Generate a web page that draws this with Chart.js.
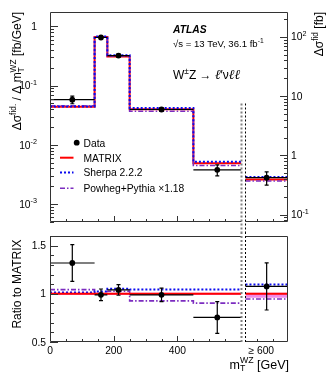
<!DOCTYPE html>
<html>
<head>
<meta charset="utf-8">
<script src="https://cdn.jsdelivr.net/npm/chart.js@4.4.1/dist/chart.umd.min.js"></script>
<style>
  body { margin: 0; background: #fff; }
  #wrap { position: relative; width: 332px; height: 375px; }
  canvas { position: absolute; left: 0; }
  #top { top: 0; }
  #bot { top: 232px; }
</style>
</head>
<body>
<div id="wrap">
  <canvas id="top" width="332" height="232"></canvas>
  <canvas id="bot" width="332" height="143"></canvas>
</div>
<script>
// m_T^WZ bins [GeV]; the >=600 bin gets its own slot right of the break
const binEdges   = [0, 140, 180, 250, 450, 600];
const binCenters = [70, 160, 215, 350, 525];
const overEdges  = [613.5, 747];
const overCenter = [680];

// upper panel: dsigma/dmT [fb/GeV] (left axis)
const dataXsec    = [0.058, 0.65, 0.322, 0.0396, 0.0038];
const dataXsecErr = [0.0085, 0.045, 0.018, 0.003, 0.0008];
const matrixXsec  = [0.044, 0.66, 0.31, 0.040, 0.0049];
const sherpaXsec  = [0.0447, 0.675, 0.326, 0.042, 0.0052];
const powhegXsec  = [0.0458, 0.66, 0.316, 0.037, 0.0045];

// upper panel: >=600 bin, dsigma [fb] (right axis)
const overData    = [0.42];
const overDataErr = [0.105];
const overMatrix  = [0.39];
const overSherpa  = [0.43];
const overPowheg  = [0.37];

// lower panel: ratio to MATRIX (last entry = >=600 bin)
const ratioData   = [1.32, 0.99, 1.04, 0.99, 0.755, 1.077];
const ratioErr    = [0.19, 0.06, 0.055, 0.07, 0.165, 0.245];
const ratioMatrix = [1, 1, 1, 1, 1, 1];
const ratioSherpa = [1.013, 1.025, 1.053, 1.045, 1.045, 1.097];
const ratioPowheg = [1.043, 1.0, 1.027, 0.927, 0.903, 0.947];
const ratioBandLo = [0.988, 0.988, 0.988, 0.988, 0.988, 0.96];
const ratioBandHi = [1.012, 1.012, 1.012, 1.012, 1.012, 1.01];

// tick labels
const leftTickVals  = [1, 0.1, 0.01, 0.001];
const leftTickText  = ['1', '10^{-1}', '10^{-2}', '10^{-3}'];
const rightTickVals = [100, 10, 1, 0.1];
const rightTickText = ['10^{2}', '10', '1', '10^{-1}'];
const ratioTickVals = [0.5, 1, 1.5];
const ratioTickText = ['0.5', '1', '1.5'];
const xTickVals = [0, 200, 400, 663];
const xTickText = ['0', '200', '400', '\u2265 600'];

const FONT = '"Liberation Sans", Arial, Helvetica, sans-serif';
const RED = '#ff0000', BLUE = '#0a0aee', PURPLE = '#7c2cc0', BAND = 'rgba(235,90,225,0.7)';

const stepPts = (edges, vals) => edges.map((e, i) => ({ x: e, y: vals[Math.min(i, vals.length - 1)] }));
const pts = (xs, ys) => xs.map((x, i) => ({ x: x, y: ys[i] }));

// text with ^{sup} and _{sub} pieces
function parseTex(s) {
  const parts = [];
  const re = /([\^_])\{([^}]*)\}/g;
  let last = 0, m;
  while ((m = re.exec(s))) {
    if (m.index > last) parts.push({ t: s.slice(last, m.index) });
    parts.push({ t: m[2], k: m[1] === '^' ? 'sup' : 'sub' });
    last = re.lastIndex;
  }
  if (last < s.length) parts.push({ t: s.slice(last) });
  return parts;
}

function drawRich(ctx, parts, size, x, y, align) {
  const small = size * 0.7;
  const fontOf = (p, sz) => (p.i ? 'italic ' : '') + (p.b ? 'bold ' : '') + (p.sz || sz) + 'px ' + (p.f || FONT);
  const widthOf = p => {
    if (p.k === 'ss') {
      ctx.font = fontOf(p, small);
      return Math.max(ctx.measureText(p.t[0]).width, ctx.measureText(p.t[1]).width);
    }
    ctx.font = fontOf(p, p.k ? small : size);
    return ctx.measureText(p.t).width;
  };
  const total = parts.reduce((a, p) => a + widthOf(p), 0);
  let cx = align === 'right' ? x - total : align === 'center' ? x - total / 2 : x;
  ctx.textAlign = 'left';
  ctx.textBaseline = 'alphabetic';
  for (const p of parts) {
    const w = widthOf(p);
    if (p.k === 'ss') {
      ctx.font = fontOf(p, small);
      ctx.fillText(p.t[0], cx, y + size * 0.22);
      ctx.fillText(p.t[1], cx, y - size * 0.45);
    } else {
      ctx.font = fontOf(p, p.k ? small : size);
      const dy = p.k === 'sup' ? -size * 0.42 : p.k === 'sub' ? size * 0.22 : 0;
      ctx.fillText(p.t, cx, y + dy);
    }
    cx += w;
  }
}

function logTicks(scale) {
  const out = [];
  for (let e = Math.floor(Math.log10(scale.min)); e <= Math.ceil(Math.log10(scale.max)); e++)
    for (let m = 1; m <= 9; m++) {
      const v = m * Math.pow(10, e);
      if (v >= scale.min * 0.999 && v <= scale.max) out.push({ v: v, major: m === 1 });
    }
  return out;
}

// black data points with bin-wide horizontal bars and capped vertical bars
const errorBars = {
  id: 'errorBars',
  afterDatasetsDraw(chart) {
    const ctx = chart.ctx;
    chart.data.datasets.forEach(ds => {
      if (!ds.errY) return;
      const xs = chart.scales.x, ys = chart.scales[ds.yAxisID || 'y'];
      ctx.save();
      ctx.strokeStyle = '#000';
      ctx.lineWidth = 1.2;
      ds.data.forEach((p, i) => {
        const px = xs.getPixelForValue(p.x), py = ys.getPixelForValue(p.y);
        const t = ys.getPixelForValue(p.y + ds.errY[i]), b = ys.getPixelForValue(p.y - ds.errY[i]);
        const l = xs.getPixelForValue(ds.xLo[i]), r = xs.getPixelForValue(ds.xHi[i]);
        ctx.beginPath();
        ctx.moveTo(l, py); ctx.lineTo(r, py);
        ctx.moveTo(px, t); ctx.lineTo(px, b);
        ctx.moveTo(px - 2, t); ctx.lineTo(px + 2, t);
        ctx.moveTo(px - 2, b); ctx.lineTo(px + 2, b);
        ctx.stroke();
      });
      ctx.restore();
    });
  }
};

function frameAndBreak(chart, breakFromY, toY, openTop, openBottom) {
  const { ctx, chartArea: a, scales: { x } } = chart;
  const b0 = Math.round(x.getPixelForValue(600)) + 0.5;
  const b1 = Math.round(x.getPixelForValue(overEdges[0])) + 0.5;
  const L = Math.round(a.left) + 0.5, R = Math.round(a.right) - 0.5;
  const T = Math.round(a.top) + 0.5, B = Math.round(a.bottom) - 0.5;
  ctx.save();
  ctx.strokeStyle = '#333';
  ctx.lineWidth = 1;
  ctx.beginPath();
  ctx.moveTo(L, T); ctx.lineTo(L, B);
  ctx.moveTo(R, T); ctx.lineTo(R, B);
  if (openTop) { ctx.moveTo(L, T); ctx.lineTo(b0, T); ctx.moveTo(b1, T); ctx.lineTo(R, T); }
  else { ctx.moveTo(L, T); ctx.lineTo(R, T); }
  if (openBottom) { ctx.moveTo(L, B); ctx.lineTo(b0, B); ctx.moveTo(b1, B); ctx.lineTo(R, B); }
  ctx.stroke();
  ctx.setLineDash([2, 2]);
  ctx.strokeStyle = '#808080';
  ctx.lineWidth = 2;
  ctx.beginPath(); ctx.moveTo(b0, breakFromY); ctx.lineTo(b0, toY); ctx.stroke();
  ctx.strokeStyle = '#000';
  ctx.lineWidth = 1;
  ctx.beginPath(); ctx.moveTo(b1, breakFromY); ctx.lineTo(b1, toY); ctx.stroke();
  ctx.restore();
}

function xTicks(chart) {
  const { ctx, chartArea: a, scales: { x } } = chart;
  ctx.save();
  ctx.strokeStyle = '#333';
  ctx.lineWidth = 1;
  ctx.beginPath();
  for (let v = 50; v <= 700; v += 50) {
    if (v === 600) continue;
    const px = Math.round(x.getPixelForValue(v)) + 0.5;
    const len = v % 200 === 0 ? 6 : 3;
    ctx.moveTo(px, a.bottom); ctx.lineTo(px, a.bottom - len);
  }
  ctx.stroke();
  ctx.restore();
}

function yTicks(chart, scale, list, side) {
  const { ctx, chartArea: a } = chart;
  ctx.save();
  ctx.strokeStyle = '#333';
  ctx.lineWidth = 1;
  ctx.beginPath();
  list.forEach(t => {
    const py = Math.round(scale.getPixelForValue(t.v)) + 0.5;
    const len = t.major ? 8 : 4;
    if (side === 'left') { ctx.moveTo(a.left, py); ctx.lineTo(a.left + len, py); }
    else { ctx.moveTo(a.right, py); ctx.lineTo(a.right - len, py); }
  });
  ctx.stroke();
  ctx.restore();
}

const topDecor = {
  id: 'topDecor',
  afterDraw(chart) {
    const { ctx, chartArea: a, scales: { y, y2 } } = chart;
    frameAndBreak(chart, y.getPixelForValue(0.05), chart.height, false, true);
    xTicks(chart);
    yTicks(chart, y, logTicks(y), 'left');
    yTicks(chart, y2, logTicks(y2), 'right');

    ctx.save();
    ctx.fillStyle = '#000';
    leftTickVals.forEach((v, i) => drawRich(ctx, parseTex(leftTickText[i]), 10.3, 37, y.getPixelForValue(v) + 3.6, 'right'));
    rightTickVals.forEach((v, i) => drawRich(ctx, parseTex(rightTickText[i]), 10.3, a.right + 3, y2.getPixelForValue(v) + 3.6, 'left'));

    // axis titles
    ctx.save();
    ctx.translate(21, a.top);
    ctx.rotate(-Math.PI / 2);
    drawRich(ctx, [{ t: '\u0394\u03c3' }, { t: 'fid.', k: 'sup' }, { t: ' / \u0394 m' }, { k: 'ss', t: ['T', 'WZ'] }, { t: ' [fb/GeV]' }], 12, 0, 0, 'right');
    ctx.restore();
    ctx.save();
    ctx.translate(323, a.top);
    ctx.rotate(-Math.PI / 2);
    drawRich(ctx, [{ t: '\u0394\u03c3' }, { t: 'fid', k: 'sup' }, { t: ' [fb]' }], 12, 0, 0, 'right');
    ctx.restore();

    // ATLAS label block
    drawRich(ctx, [{ t: 'ATLAS', b: true, i: true }], 10.3, 173, 33, 'left');
    drawRich(ctx, parseTex('\u221as = 13 TeV, 36.1 fb^{-1}'), 9.6, 173, 47, 'left');
    const ell = { t: '\u2113', i: true, f: '"DejaVu Serif", serif', sz: 13.5 };
    drawRich(ctx, [{ t: 'W' }, { t: '\u00b1', k: 'sup' }, { t: 'Z \u2192 ' }, ell, { t: '\u2032\u03bd' },
      ell, ell], 12, 173, 79, 'left');

    // legend
    const lx0 = 60, lx1 = 73.5, tx = 83.5;
    ctx.beginPath();
    ctx.arc(76.7, 142.7, 2.9, 0, 2 * Math.PI);
    ctx.fill();
    drawRich(ctx, [{ t: 'Data' }], 10.3, tx, 146.5, 'left');
    const rows = [
      { y: 157.7, c: RED, w: 2, d: [], t: 'MATRIX' },
      { y: 172.6, c: BLUE, w: 2, d: [2, 2], t: 'Sherpa 2.2.2' },
      { y: 188.2, c: PURPLE, w: 1.6, d: [5, 2, 1.5, 2], t: 'Powheg+Pythia \u00d71.18' }
    ];
    rows.forEach(r => {
      ctx.save();
      ctx.strokeStyle = r.c; ctx.lineWidth = r.w; ctx.setLineDash(r.d);
      ctx.beginPath(); ctx.moveTo(lx0, r.y); ctx.lineTo(lx1, r.y); ctx.stroke();
      ctx.restore();
      drawRich(ctx, [{ t: r.t }], 10.3, tx, r.y + 3.8, 'left');
    });
    ctx.restore();
  }
};

const botDecor = {
  id: 'botDecor',
  afterDraw(chart) {
    const { ctx, chartArea: a, scales: { x, y } } = chart;
    frameAndBreak(chart, 0, a.bottom, true, true);
    xTicks(chart);
    const rt = [];
    for (let k = 5; k <= 16; k++) rt.push({ v: k / 10, major: k % 5 === 0 });
    yTicks(chart, y, rt, 'left');

    ctx.save();
    ctx.fillStyle = '#000';
    ratioTickVals.forEach((v, i) => drawRich(ctx, parseTex(ratioTickText[i]), 10.3, 46, y.getPixelForValue(v) + 3.6, 'right'));
    xTickVals.forEach((v, i) => drawRich(ctx, parseTex(xTickText[i]), 10.3, x.getPixelForValue(v), a.bottom + 12, 'center'));

    ctx.save();
    ctx.translate(21, 52);
    ctx.rotate(-Math.PI / 2);
    drawRich(ctx, [{ t: 'Ratio to MATRIX' }], 12, 0, 0, 'center');
    ctx.restore();

    drawRich(ctx, [{ t: 'm' }, { k: 'ss', t: ['T', 'WZ'] }, { t: ' [GeV]' }], 12.5, a.right + 1, 136.5, 'right');
    ctx.restore();
  }
};

const stepLine = (data, color, width, dash, axis) => ({
  data: data, yAxisID: axis || 'y', showLine: true, stepped: true, fill: false,
  borderColor: color, borderWidth: width, borderDash: dash, pointRadius: 0, backgroundColor: color
});
const dataSet = (data, errs, lo, hi, axis) => ({
  data: data, yAxisID: axis || 'y', showLine: false, pointRadius: 2.9,
  pointBackgroundColor: '#000', pointBorderWidth: 0, errY: errs, xLo: lo, xHi: hi
});

const commonOpts = {
  responsive: false,
  animation: false,
  devicePixelRatio: 1,
  events: [],
  plugins: { legend: { display: false }, tooltip: { enabled: false } }
};

new Chart(document.getElementById('top'), {
  type: 'scatter',
  data: {
    datasets: [
      dataSet(pts(binCenters, dataXsec), dataXsecErr, binEdges.slice(0, 5), binEdges.slice(1)),
      dataSet(pts(overCenter, overData), overDataErr, [overEdges[0]], [overEdges[1]], 'y2'),
      stepLine(stepPts(binEdges, sherpaXsec), BLUE, 2, [2, 2]),
      stepLine(stepPts(overEdges, overSherpa), BLUE, 2, [2, 2], 'y2'),
      stepLine(stepPts(binEdges, powhegXsec), PURPLE, 1.6, [5, 2, 1.5, 2]),
      stepLine(stepPts(overEdges, overPowheg), PURPLE, 1.6, [5, 2, 1.5, 2], 'y2'),
      stepLine(stepPts(binEdges, matrixXsec), RED, 2, []),
      stepLine(stepPts(overEdges, overMatrix), RED, 2, [], 'y2')
    ]
  },
  options: Object.assign({}, commonOpts, {
    layout: { padding: { left: 50, right: 44, top: 12, bottom: 10 } },
    scales: {
      x: { type: 'linear', min: 0, max: 747, display: false },
      y: { type: 'logarithmic', min: 5e-4, max: 1.75, display: false },
      y2: { type: 'logarithmic', position: 'right', min: 0.075, max: 262.5, display: false }
    }
  }),
  plugins: [errorBars, topDecor]
});

const mainR = arr => arr.slice(0, 5);
const overR = arr => arr.slice(5);

new Chart(document.getElementById('bot'), {
  type: 'scatter',
  data: {
    datasets: [
      dataSet(pts(binCenters, mainR(ratioData)), mainR(ratioErr), binEdges.slice(0, 5), binEdges.slice(1)),
      dataSet(pts(overCenter, overR(ratioData)), overR(ratioErr), [overEdges[0]], [overEdges[1]]),
      stepLine(stepPts(binEdges, mainR(ratioMatrix)), RED, 2, []),
      stepLine(stepPts(overEdges, overR(ratioMatrix)), RED, 2, []),
      stepLine(stepPts(binEdges, mainR(ratioSherpa)), BLUE, 2, [2, 2]),
      stepLine(stepPts(overEdges, overR(ratioSherpa)), BLUE, 2, [2, 2]),
      stepLine(stepPts(binEdges, mainR(ratioPowheg)), PURPLE, 1.6, [5, 2, 1.5, 2]),
      stepLine(stepPts(overEdges, overR(ratioPowheg)), PURPLE, 1.6, [5, 2, 1.5, 2]),
      Object.assign(stepLine(stepPts(binEdges, mainR(ratioBandHi)), BAND, 0, []), { fill: '+1', backgroundColor: BAND }),
      stepLine(stepPts(binEdges, mainR(ratioBandLo)), BAND, 0, []),
      Object.assign(stepLine(stepPts(overEdges, overR(ratioBandHi)), BAND, 0, []), { fill: '+1', backgroundColor: BAND }),
      stepLine(stepPts(overEdges, overR(ratioBandLo)), BAND, 0, [])
    ]
  },
  options: Object.assign({}, commonOpts, {
    layout: { padding: { left: 50, right: 44, top: 0, bottom: 33 } },
    scales: {
      x: { type: 'linear', min: 0, max: 747, display: false },
      y: { type: 'linear', min: 0.5, max: 1.6, display: false }
    }
  }),
  plugins: [errorBars, botDecor]
});
</script>
</body>
</html>
